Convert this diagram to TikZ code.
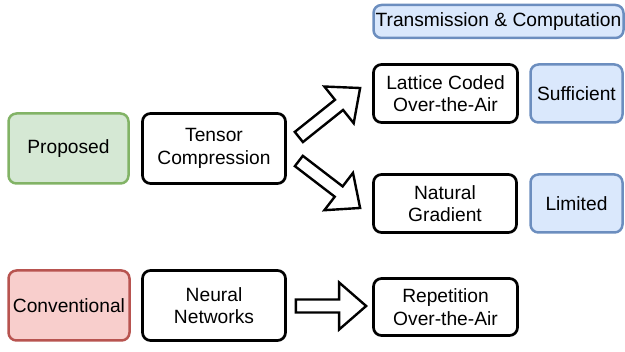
\documentclass[tikz,border=0pt]{standalone}
\usepackage{fontspec}
\setmainfont{Liberation Sans}
\usetikzlibrary{calc}
\definecolor{gfill}{HTML}{D5E8D4}\definecolor{gline}{HTML}{82B366}
\definecolor{rfill}{HTML}{F8CECC}\definecolor{rline}{HTML}{B85450}
\definecolor{bfill}{HTML}{DAE8FC}\definecolor{bline}{HTML}{6C8EBF}
\tikzset{
  box/.style={draw=black, line width=2.7pt, rounded corners=8pt, fill=white, align=center,
    inner sep=0pt, font=\fontsize{19.2}{22.5}\selectfont},
  greenbox/.style={box, draw=gline, fill=gfill, line width=2.5pt},
  redbox/.style={box, draw=rline, fill=rfill, line width=2.5pt},
  bluebox/.style={box, draw=bline, fill=bfill, line width=2.5pt},
  blockarrow/.style={draw=black, line width=2.4pt, fill=white, line join=miter},
}
\newcommand{\blockarr}[2]{%
  \draw[blockarrow] let \p1=(#1), \p2=(#2),
    \n1={atan2(\y2-\y1,\x2-\x1)}, \n2={veclen(\x2-\x1,\y2-\y1)} in
    [shift={(\p1)}, rotate=\n1]
    (0,-6.5) -- (\n2-27,-6.5) -- (\n2-27,-23.5) -- (\n2,0) -- (\n2-27,23.5) -- (\n2-27,6.5) -- (0,6.5) -- cycle;}
\begin{document}
\begin{tikzpicture}[x=1pt,y=-1pt]
\useasboundingbox (0,0) rectangle (625,352);
\node[bluebox, minimum width=250, minimum height=33] (trans) at (498.5,21.5) {Transmission \& Computation};
\node[box, minimum width=144, minimum height=58] (lattice) at (445.5,93.5) {Lattice Coded\\Over-the-Air};
\node[bluebox, minimum width=92, minimum height=58] (suff) at (576.5,93.5) {Sufficient};
\node[box, minimum width=143, minimum height=58] (natural) at (445,203.5) {Natural\\Gradient};
\node[bluebox, minimum width=92, minimum height=58] (limited) at (576.5,203.5) {Limited};
\node[greenbox, minimum width=120, minimum height=70] (proposed) at (68.5,148.5) {Proposed};
\node[box, minimum width=143, minimum height=70] (tensor) at (214,148.5) {Tensor\\Compression};
\node[redbox, minimum width=121, minimum height=70] (conv) at (69,305.5) {Conventional};
\node[box, minimum width=143, minimum height=70] (neural) at (214,305.5) {Neural\\Networks};
\node[box, minimum width=144, minimum height=57] (rep) at (445.5,307) {Repetition\\Over-the-Air};
\coordinate (a1s) at ($(tensor.east)+(12,-11.5)$);
\coordinate (a1e) at ($(lattice.west)+(-12,-5.5)$);
\coordinate (a2s) at ($(tensor.east)+(12,12.5)$);
\coordinate (a2e) at ($(natural.west)+(-12,4.5)$);
\coordinate (a3s) at ($(neural.east)+(9,0.5)$);
\coordinate (a3e) at ($(rep.west)+(-6,-1)$);
\blockarr{a1s}{a1e}
\blockarr{a2s}{a2e}
\blockarr{a3s}{a3e}
\end{tikzpicture}
\end{document}
